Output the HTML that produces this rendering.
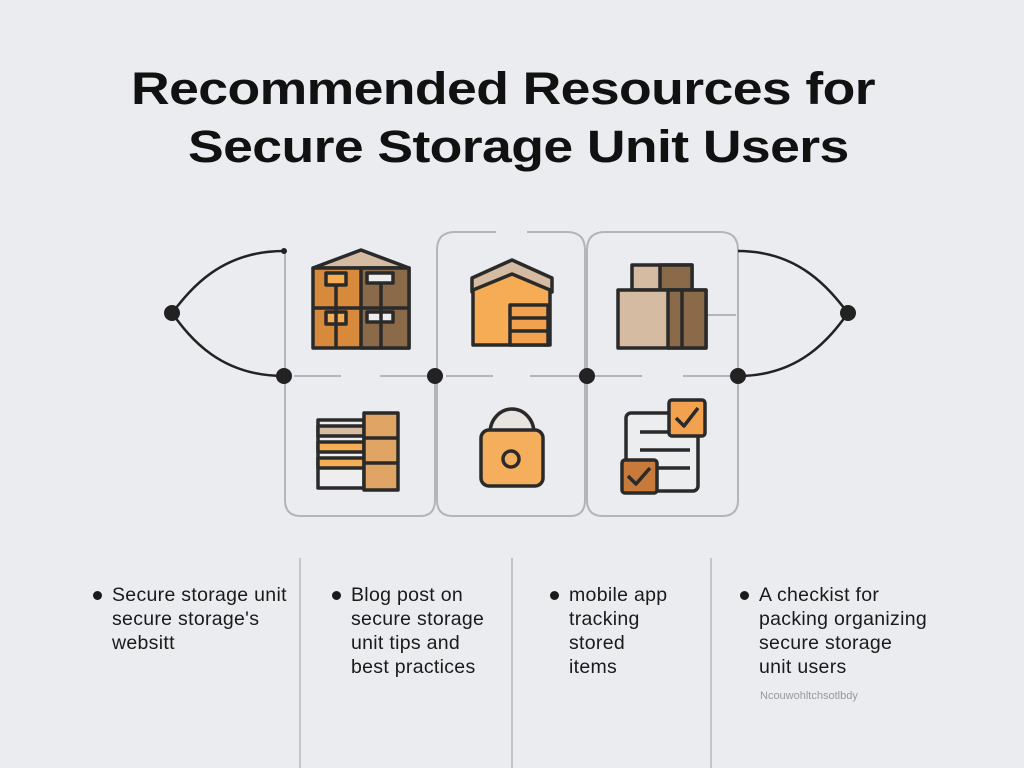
<!DOCTYPE html>
<html><head><meta charset="utf-8"><style>
html,body{margin:0;padding:0;background:#ebecef;}
body{width:1024px;height:768px;position:relative;overflow:hidden;font-family:"Liberation Sans",sans-serif;}
.t{position:absolute;font-weight:bold;font-size:45px;color:#111;white-space:nowrap;letter-spacing:-0.5px;transform:scaleX(1.19);transform-origin:0 0}
.b{position:absolute;font-size:19.5px;line-height:24px;color:#1a1a1a;letter-spacing:0.3px;white-space:nowrap}
.b:before{content:"";position:absolute;left:-19px;top:8px;width:9px;height:9px;border-radius:50%;background:#1a1a1a}
</style></head><body>
<div class="t" style="left:131px;top:63px">Recommended Resources for</div>
<div class="t" style="left:188px;top:121px">Secure Storage Unit Users</div>
<svg width="1024" height="768" style="position:absolute;left:0;top:0">
<g fill="none" stroke="#b4b5b8" stroke-width="2">
<path d="M285 251 V376"/>
<path d="M437 376 V250 Q437 232 455 232 H496 M527 232 H567 Q585 232 585 250 V376"/>
<path d="M587 376 V250 Q587 232 605 232 H720 Q738 232 738 250 V376"/>
<path d="M285 376 V500 Q285 516 301 516 H420 Q435 516 435 500 V376"/>
<path d="M437 376 V500 Q437 516 453 516 H570 Q585 516 585 500 V376"/>
<path d="M587 376 V500 Q587 516 603 516 H722 Q738 516 738 500 V376"/>
<path d="M294 376 H341 M380 376 H428 M446 376 H493 M530 376 H582 M595 376 H642 M683 376 H736"/>
<path d="M707 315 H736"/>
<path d="M300 558 V768 M512 558 V768 M711 558 V768" stroke="#c4c5c8"/>
</g>
<g fill="none" stroke="#222" stroke-width="2.5">
<path d="M284 251 C220 251 190 290 172 313 C190 338 220 376 284 376"/>
<path d="M738 251 C800 251 830 290 848 313 C830 338 800 376 738 376"/>
</g>
<g fill="#222"><circle cx="172" cy="313" r="8"/><circle cx="284" cy="376" r="8"/><circle cx="435" cy="376" r="8"/><circle cx="587" cy="376" r="8"/><circle cx="738" cy="376" r="8"/><circle cx="848" cy="313" r="8"/><circle cx="284" cy="251" r="3"/></g>
<g stroke="#2a2a2a" stroke-width="3.5" stroke-linejoin="round">
<path d="M313 268 L361 250 L409 268 Z" fill="#d6bba3"/>
<rect x="313" y="268" width="96" height="80" fill="#d78a3c"/>
<rect x="361" y="268" width="48" height="80" fill="#8b6a4a"/>
<rect x="326" y="273" width="20" height="12" fill="#f5ae55"/><rect x="367" y="273" width="26" height="10" fill="#eee"/>
<rect x="326" y="312" width="20" height="12" fill="#f5ae55"/><rect x="367" y="312" width="26" height="10" fill="#eee"/>
<path d="M313 308 H409 M336 285 V348 M381 283 V348" fill="none"/>
<path d="M472 278 L512 260 L552 278 L552 292 L512 275 L472 292 Z" fill="#d6bba3"/>
<path d="M473 290 L512 274 L550 290 V345 H473 Z" fill="#f6ac55"/>
<rect x="510" y="305" width="38" height="40" fill="#f2a24f"/>
<path d="M510 318 H548 M510 331 H548" fill="none"/>
<rect x="632" y="265" width="60" height="25" fill="#d6bba3"/><rect x="660" y="265" width="32" height="25" fill="#8b6a4a"/>
<rect x="618" y="290" width="88" height="58" fill="#d6bba3"/><rect x="668" y="290" width="38" height="58" fill="#8b6a4a"/>
<path d="M682 290 V348" fill="none"/>
<rect x="318" y="420" width="46" height="68" fill="#eee"/>
<rect x="318" y="442" width="46" height="10" fill="#f5ae55"/><rect x="318" y="458" width="46" height="10" fill="#f5ae55"/>
<rect x="318" y="426" width="46" height="10" fill="#d6bba3"/>
<rect x="364" y="413" width="34" height="77" fill="#e0a465"/>
<path d="M364 438 H398 M364 463 H398" fill="none"/>
<path d="M490 433 A22 24 0 0 1 534 433 Z" fill="#e8e4e0"/>
<rect x="481" y="430" width="62" height="56" rx="8" fill="#f5ae5c"/>
<circle cx="511" cy="459" r="8" fill="none"/>
<rect x="626" y="413" width="72" height="78" rx="5" fill="#ecedef"/>
<path d="M640 432 H672 M640 450 H690 M640 468 H690" fill="none"/>
<rect x="669" y="400" width="36" height="36" rx="3" fill="#f2a24f"/>
<path d="M676 418 L684 426 L698 408" fill="none"/>
<rect x="622" y="460" width="35" height="33" rx="3" fill="#c87a3a"/>
<path d="M628 476 L636 484 L650 468" fill="none"/>
</g>
</svg>
<div class="b" style="left:112px;top:583px">Secure storage unit<br>secure storage's<br>websitt</div>
<div class="b" style="left:351px;top:583px">Blog post on<br>secure storage<br>unit tips and<br>best practices</div>
<div class="b" style="left:569px;top:583px">mobile app<br>tracking<br>stored<br>items</div>
<div class="b" style="left:759px;top:583px">A checkist for<br>packing organizing<br>secure storage<br>unit users</div>
<div style="position:absolute;left:760px;top:690px;font-size:11px;color:#999">Ncouwohltchsotlbdy</div>
</body></html>
